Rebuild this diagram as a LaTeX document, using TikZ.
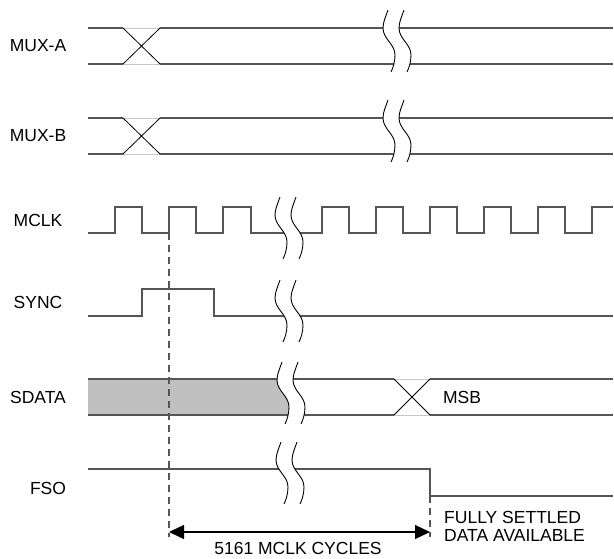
\documentclass[tikz,border=0pt]{standalone}
\usepackage{fontspec}
\setmainfont{Liberation Sans}
\usetikzlibrary{arrows.meta}
\definecolor{sigcol}{HTML}{555555}
\definecolor{lightsig}{HTML}{C8C8C8}
\definecolor{fillgray}{HTML}{C0C0C0}
\newcommand\sigbreak[2]{%
  \begin{scope}[shift={(#1,#2)}]
    \fill[white] (0,0) .. controls (-2,6) and (-5,12) .. (-5,18)
      .. controls (-5,29) and (7,34) .. (7,45)
      .. controls (7,52) and (5,58) .. (3,62)
      -- (19,62) .. controls (21,58) and (23,52) .. (23,45)
      .. controls (23,34) and (11,29) .. (11,18)
      .. controls (11,12) and (14,6) .. (16,0) -- cycle;
    \draw[brk] (0,0) .. controls (-2,6) and (-5,12) .. (-5,18)
      .. controls (-5,29) and (7,34) .. (7,45)
      .. controls (7,52) and (5,58) .. (3,62);
    \draw[brk] (16,0) .. controls (14,6) and (11,12) .. (11,18)
      .. controls (11,29) and (23,34) .. (23,45)
      .. controls (23,52) and (21,58) .. (19,62);
  \end{scope}}
\begin{document}
\begin{tikzpicture}[x=1pt,y=-1pt,
  sig/.style={draw=sigcol,line width=1.3pt},
  faint/.style={draw=lightsig,line width=0.8pt},
  cross/.style={draw=black,line width=0.8pt},
  brk/.style={draw=black,line width=0.9pt},
  dashline/.style={draw=sigcol,line width=1.1pt,dash pattern=on 7pt off 5pt},
  dimline/.style={draw=black,line width=1.3pt,{Triangle[length=15pt,width=14pt]}-{Triangle[length=15pt,width=14pt]}},
  lbl/.style={inner sep=0pt,font=\fontsize{17.5}{21}\selectfont}]
\useasboundingbox (0,0) rectangle (614,558);

% labels
\node[lbl] (la) at (38,46) {MUX-A};
\node[lbl] (lb) at (38,136) {MUX-B};
\node[lbl] (lc) at (38,220) {MCLK};
\node[lbl] (ls) at (38,302.5) {SYNC};
\node[lbl] (ld) at (38,397) {SDATA};
\node[lbl] (lf) at (48,488) {FSO};

% MUX-A / MUX-B
\foreach \t/\b in {28/64,118/154}{
  \draw[sig] (88,\t) -- (123,\t) (160,\t) -- (613,\t);
  \draw[sig] (88,\b) -- (123,\b) (160,\b) -- (613,\b);
  \draw[faint] (123,\t) -- (160,\t) (123,\b) -- (160,\b);
  \draw[cross] (123,\t) -- (160,\b) (123,\b) -- (160,\t);
}

% MCLK
\draw[sig] (88,233) -- (115,233) -- (115,207) -- (142,207) -- (142,233)
  -- (169,233) -- (169,207) -- (196,207) -- (196,233) -- (223,233)
  -- (223,207) -- (251,207) -- (251,233) -- (322,233) -- (322,207)
  -- (349,207) -- (349,233) -- (376,233) -- (376,207) -- (403,207)
  -- (403,233) -- (430,233) -- (430,207) -- (457,207) -- (457,233)
  -- (484,233) -- (484,207) -- (511,207) -- (511,233) -- (538,233)
  -- (538,207) -- (565,207) -- (565,233) -- (592,233) -- (592,207)
  -- (613,207);

% SYNC
\draw[sig] (88,316) -- (142,316) -- (142,289) -- (214,289) -- (214,316) -- (613,316);

% SDATA
\fill[fillgray] (88,379) rectangle (292,415);
\draw[sig] (88,379) -- (394,379) (430,379) -- (613,379);
\draw[sig] (88,415) -- (394,415) (430,415) -- (613,415);
\draw[faint] (394,379) -- (430,379) (394,415) -- (430,415);
\draw[cross] (394,379) -- (430,415) (394,415) -- (430,379);
\node[lbl] (msb) at (462,397) {MSB};

% FSO
\draw[sig] (88,469) -- (430,469) -- (430,496) -- (613,496);

% breaks
\sigbreak{388}{10}
\sigbreak{388}{100}
\sigbreak{280}{197}
\sigbreak{280}{280}
\sigbreak{282}{362}
\sigbreak{281}{442}

% dashed markers and dimension
\coordinate (edge) at (169,233);
\coordinate (edgeb) at (169,537);
\coordinate (fsodrop) at (430,496);
\coordinate (fsob) at (430,537);
\coordinate (dimL) at (169,532);
\coordinate (dimR) at (430,532);
\draw[dashline] (edge) -- (edgeb);
\draw[dashline] (fsodrop) -- (fsob);
\draw[dimline] (dimL) -- (dimR);

\node[lbl,anchor=base west] (fs1) at (444,523) {FULLY SETTLED};
\node[lbl,anchor=base west] (fs2) at (444,541) {DATA AVAILABLE};
\node[lbl,anchor=base] (cyc) at (298,554) {5161 MCLK CYCLES};
\end{tikzpicture}
\end{document}
